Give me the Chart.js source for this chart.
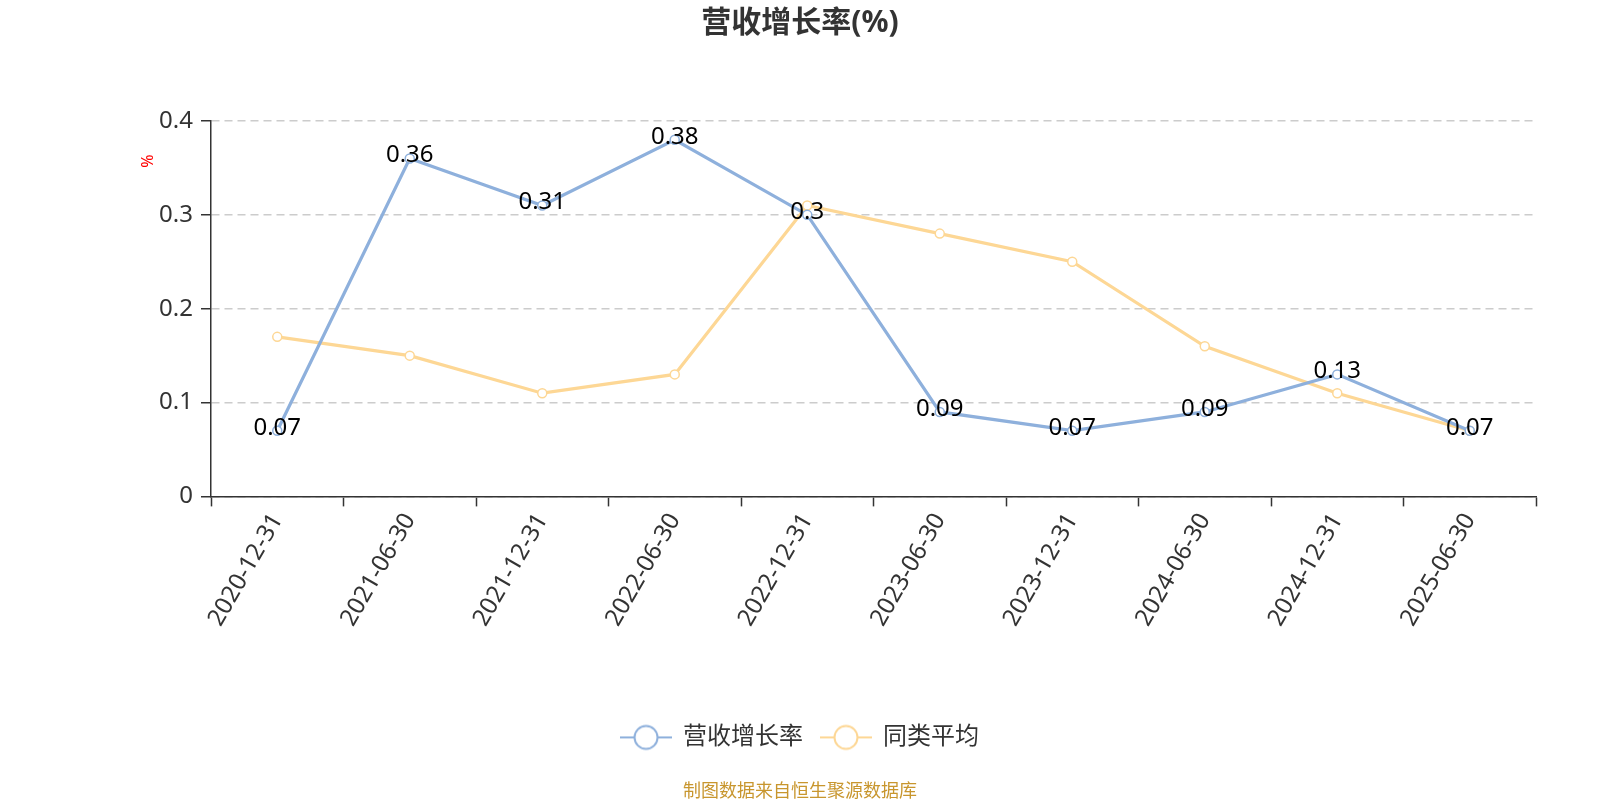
<!DOCTYPE html>
<html>
<head>
<meta charset="utf-8">
<script src="https://cdn.jsdelivr.net/npm/chart.js@4/dist/chart.umd.min.js"></script>
<style>
  html, body { margin: 0; padding: 0; background: #fff; }
  #wrap { width: 1600px; height: 800px; }
</style>
</head>
<body>
<div id="wrap"><canvas id="growthChart" width="1600" height="800"></canvas></div>
<script>
// data
var categories = ["2020-12-31", "2021-06-30", "2021-12-31", "2022-06-30", "2022-12-31",
                  "2023-06-30", "2023-12-31", "2024-06-30", "2024-12-31", "2025-06-30"];
var revenueGrowth = [0.07, 0.36, 0.31, 0.38, 0.3, 0.09, 0.07, 0.09, 0.13, 0.07];
var peerAverage = [0.17, 0.15, 0.11, 0.13, 0.31, 0.28, 0.25, 0.16, 0.11, 0.07];
var yTicks = [0, 0.1, 0.2, 0.3, 0.4];

var FONT = "'Noto Sans', 'Noto Sans CJK SC', sans-serif";
var BLUE = "#8eb0dc";
var YELLOW = "#fdd795";

// legend marker: short line with an open circle in the middle
function legendMarker(color) {
  var c = document.createElement("canvas");
  c.width = 52;
  c.height = 28;
  var g = c.getContext("2d");
  g.strokeStyle = color;
  g.lineWidth = 2;
  g.beginPath();
  g.moveTo(0, 14); g.lineTo(14, 14);
  g.moveTo(38, 14); g.lineTo(52, 14);
  g.stroke();
  g.beginPath();
  g.arc(26, 14, 11.5, 0, Math.PI * 2);
  g.fillStyle = "#fff";
  g.fill();
  g.stroke();
  return c;
}

// value labels on the first series, centred on each point
var valueLabels = {
  id: "valueLabels",
  afterDatasetsDraw: function (chart) {
    var ctx = chart.ctx;
    var meta = chart.getDatasetMeta(0);
    ctx.save();
    ctx.font = "24px " + FONT;
    ctx.fillStyle = "#000";
    ctx.textAlign = "center";
    ctx.textBaseline = "middle";
    meta.data.forEach(function (pt, i) {
      ctx.fillText(String(revenueGrowth[i]), pt.x, pt.y - 3);
    });
    ctx.restore();
  }
};

// small red "%" unit near the top of the y axis
var unitLabel = {
  id: "unitLabel",
  afterDraw: function (chart) {
    var ctx = chart.ctx;
    var area = chart.chartArea;
    ctx.save();
    ctx.translate(area.left - 63, area.top + 40);
    ctx.rotate(-Math.PI / 2);
    ctx.font = "16px " + FONT;
    ctx.fillStyle = "#ff0000";
    ctx.textAlign = "center";
    ctx.textBaseline = "middle";
    ctx.fillText("%", 0, 0);
    ctx.restore();
  }
};

var ctx = document.getElementById("growthChart").getContext("2d");
var chart = new Chart(ctx, {
  type: "line",
  data: {
    labels: categories,
    datasets: [
      {
        label: "营收增长率",
        data: revenueGrowth,
        borderColor: BLUE,
        backgroundColor: "#fff",
        borderWidth: 3.2,
        pointRadius: 4.5,
        pointBorderWidth: 1.5,
        pointBorderColor: BLUE,
        pointBackgroundColor: "#fff",
        tension: 0,
        fill: false
      },
      {
        label: "同类平均",
        data: peerAverage,
        borderColor: YELLOW,
        backgroundColor: "#fff",
        borderWidth: 3.2,
        pointRadius: 4.5,
        pointBorderWidth: 1.5,
        pointBorderColor: YELLOW,
        pointBackgroundColor: "#fff",
        tension: 0,
        fill: false
      }
    ]
  },
  options: {
    responsive: false,
    animation: false,
    layout: { padding: 0 },
    plugins: {
      title: {
        display: true,
        text: "营收增长率(%)",
        color: "#333",
        font: { family: FONT, size: 30, weight: "bold" },
        padding: { top: 5, bottom: 80 }
      },
      subtitle: {
        display: true,
        position: "bottom",
        text: "制图数据来自恒生聚源数据库",
        color: "#c8962e",
        font: { family: FONT, size: 18 },
        padding: { top: 22, bottom: -3 }
      },
      legend: {
        position: "bottom",
        labels: {
          usePointStyle: true,
          pointStyleWidth: 50,
          color: "#333",
          font: { family: FONT, size: 24 },
          padding: 18,
          generateLabels: function (chart) {
            return chart.data.datasets.map(function (ds, i) {
              return {
                text: ds.label,
                fontColor: "#333",
                pointStyle: legendMarker(ds.borderColor),
                strokeStyle: ds.borderColor,
                fillStyle: "#fff",
                lineWidth: 0,
                hidden: false,
                datasetIndex: i
              };
            });
          }
        }
      },
      tooltip: { enabled: false }
    },
    scales: {
      x: {
        type: "category",
        offset: true,
        grid: {
          offset: true,
          drawOnChartArea: false,
          drawTicks: true,
          tickLength: 10,
          tickColor: "#333",
          tickWidth: 1.5
        },
        border: { display: true, color: "#333", width: 1.5 },
        ticks: {
          color: "#333",
          font: { family: FONT, size: 24 },
          maxRotation: 60,
          minRotation: 60,
          padding: 2
        },
        afterFit: function (scale) { scale.height = 211; }
      },
      y: {
        min: 0,
        max: 0.4,
        afterBuildTicks: function (scale) {
          scale.ticks = yTicks.map(function (v) { return { value: v }; });
        },
        grid: {
          color: "#cccccc",
          lineWidth: 1.5,
          drawTicks: true,
          tickLength: 10,
          tickColor: "#333",
          tickWidth: 1.5,
          tickBorderDash: []
        },
        border: { display: true, color: "#333", width: 1.5, dash: [8, 5] },
        ticks: {
          color: "#333",
          font: { family: FONT, size: 24 },
          padding: 8,
          callback: function (v) { return String(Math.round(v * 10) / 10); }
        },
        afterFit: function (scale) { scale.width = 211; }
      },
      // empty right-hand axis that only reserves the right margin,
      // so title, legend and footer stay centred on the whole canvas
      yRight: {
        position: "right",
        min: 0,
        max: 0.4,
        grid: { display: false, drawOnChartArea: false },
        border: { display: false },
        ticks: { display: false },
        afterFit: function (scale) { scale.width = 64; }
      }
    }
  },
  plugins: [valueLabels, unitLabel]
});
</script>
</body>
</html>
